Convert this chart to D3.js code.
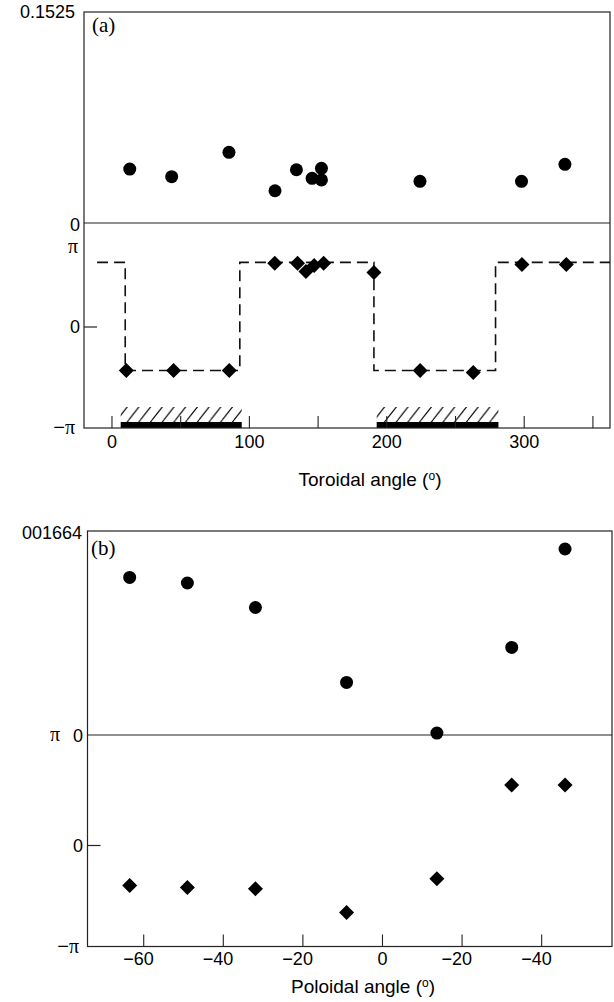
<!DOCTYPE html>
<html>
<head>
<meta charset="utf-8">
<script src="https://cdn.jsdelivr.net/npm/d3@7"></script>
<style>
  html, body { margin: 0; padding: 0; background: #fff; }
  svg { display: block; }
  text { font-family: "Liberation Sans", Arial, Helvetica, sans-serif; fill: #000; }
</style>
</head>
<body>
<svg id="chart" width="614" height="1002"></svg>
<script>
// ---------- Panel (a): toroidal scan ----------
const torTicks = [0, 50, 100, 150, 200, 250, 300, 350];
const torTickLabels = ["0", "", "100", "", "200", "", "300", ""];
const torCircleX = [13.3, 43.8, 85.5, 119, 134.6, 146, 152.8, 152.8, 224.5, 298.4, 330];
const torAmp = [0.0390, 0.0335, 0.0511, 0.0233, 0.0385, 0.0323, 0.0395, 0.0311, 0.0301, 0.0301, 0.0424];
const torDiamondX = [10.8, 45.2, 85.7, 118.8, 135.4, 141.5, 147.5, 154.4, 191, 224.6, 263.3, 298.7, 331];
const torPhase = [-0.43, -0.43, -0.43, 0.63, 0.63, 0.55, 0.61, 0.63, 0.54, -0.43, -0.45, 0.62, 0.62]; // units of π
const torStepX = [-10.5, 10, 93.4, 191, 279.5, 362.8];
const torStepPhase = [0.64, -0.43, 0.64, -0.43, 0.64, 0.64];
const torHatched = [[6.7, 94.8], [193, 281.6]];

// ---------- Panel (b): poloidal scan ----------
const polTicks = [-60, -40, -20, 0, 20, 40];
const polTickLabels = ["\u221260", "\u221240", "\u221220", "0", "\u221220", "\u221240"];
const polX = [-63.4, -48.9, -31.8, -8.9, 13.8, 32.6, 46.0];
const polAmp = [0.01285, 0.01240, 0.01040, 0.00429, 0.00016, 0.00714, 0.01517];
const polPhase = [-0.396, -0.416, -0.429, -0.663, -0.33, 0.598, 0.598]; // units of π

const svg = d3.select("#chart");
const defs = svg.append("defs");
const pat = defs.append("pattern")
  .attr("id", "hatch").attr("patternUnits", "userSpaceOnUse")
  .attr("width", 11.7).attr("height", 15);
pat.append("line").attr("x1", 0).attr("y1", 15).attr("x2", 11.7).attr("y2", 0)
  .attr("stroke", "#000").attr("stroke-width", 1.1);
pat.append("line").attr("x1", -11.7).attr("y1", 15).attr("x2", 0).attr("y2", 0)
  .attr("stroke", "#000").attr("stroke-width", 1.1);
pat.append("line").attr("x1", 11.7).attr("y1", 15).attr("x2", 23.4).attr("y2", 0)
  .attr("stroke", "#000").attr("stroke-width", 1.1);

const diamond = d3.symbol().type(d3.symbolDiamond2 || d3.symbolSquare2).size(115);
const diamondPath = "M0,-7.5L7.5,0L0,7.5L-7.5,0Z";

function fixMinus(axisG) {
  axisG.selectAll(".tick text").each(function () {
    const t = d3.select(this);
    const s = t.text();
    if (s.startsWith("\u2212")) {
      const full = this.getComputedTextLength();
      t.text(s.slice(1));
      const digits = this.getComputedTextLength();
      t.text(s);
      t.attr("dx", -(full - digits) / 2);
    }
  });
}

function drawTitle(x, y, label) {
  const t = svg.append("text").attr("x", x).attr("y", y)
    .attr("text-anchor", "middle").attr("font-size", 19);
  t.append("tspan").text(label + " (");
  t.append("tspan").attr("font-size", 12).attr("dy", -6).text("o");
  t.append("tspan").attr("dy", 6).text(")");
}

// ===== Panel (a) =====
{
  const L = 84, R = 610, T = 12, S = 223, B = 428;
  const x = d3.scaleLinear().domain([-20, 362.8]).range([L, R]);
  const yAmp = d3.scaleLinear().domain([0, 0.1525]).range([S, T]);
  const yPh = d3.scaleLinear().domain([-1, 1]).range([B, 226]);

  // hatched regions
  svg.selectAll(".hatchA").data(torHatched).join("rect")
    .attr("x", d => x(d[0])).attr("width", d => x(d[1]) - x(d[0]))
    .attr("y", B - 21).attr("height", 15)
    .attr("fill", "url(#hatch)");
  svg.selectAll(".barA").data(torHatched).join("rect")
    .attr("x", d => x(d[0])).attr("width", d => x(d[1]) - x(d[0]))
    .attr("y", B - 6).attr("height", 6).attr("fill", "#000");

  // axis
  const ax = svg.append("g").attr("transform", `translate(0,${B})`)
    .call(d3.axisBottom(x).tickValues(torTicks).tickSize(-12).tickPadding(7)
      .tickFormat((d, i) => torTickLabels[i]));
  ax.select(".domain").remove();
  ax.selectAll(".tick line").attr("stroke", "#222").attr("stroke-width", 1.1);
  ax.selectAll(".tick text").attr("font-size", 18).attr("font-family", "Liberation Sans, Arial, sans-serif");

  // frame and separator
  svg.append("rect").attr("x", L).attr("y", T).attr("width", R - L).attr("height", B - T)
    .attr("fill", "none").attr("stroke", "#222").attr("stroke-width", 1.2);
  svg.append("line").attr("x1", L).attr("x2", R).attr("y1", yAmp(0)).attr("y2", yAmp(0))
    .attr("stroke", "#222").attr("stroke-width", 1.2);
  // phase zero tick
  svg.append("line").attr("x1", L).attr("x2", L + 13).attr("y1", yPh(0)).attr("y2", yPh(0))
    .attr("stroke", "#222").attr("stroke-width", 1.2);

  // step (dashed) line
  const pts = torStepX.map((v, i) => [v, torStepPhase[i]]);
  svg.append("path").datum(pts)
    .attr("d", d3.line().x(d => x(d[0])).y(d => yPh(d[1])).curve(d3.curveStepAfter))
    .attr("fill", "none").attr("stroke", "#111").attr("stroke-width", 1.6)
    .attr("stroke-dasharray", "11,6");

  // circles (amplitude)
  svg.selectAll(".cA").data(torCircleX).join("circle")
    .attr("cx", d => x(d)).attr("cy", (d, i) => yAmp(torAmp[i])).attr("r", 6.5).attr("fill", "#000");
  // diamonds (phase)
  svg.selectAll(".dA").data(torDiamondX).join("path")
    .attr("d", diamondPath)
    .attr("transform", (d, i) => `translate(${x(d)},${yPh(torPhase[i])})`).attr("fill", "#000");

  // left labels
  const lab = (txt, xx, yy, ff) => svg.append("text").attr("x", xx).attr("y", yy)
    .attr("text-anchor", "end").attr("font-size", 18)
    .style("font-family", ff || "Liberation Sans, Arial, sans-serif").text(txt);
  lab("0.1525", 75, 18);
  lab("0", 80, 231);
  lab("\u03c0", 78, 253, "Liberation Serif, Times New Roman, serif").attr("font-size", 20);
  lab("0", 80, 333);
  svg.append("text").attr("x", 75).attr("y", 434).attr("text-anchor", "end").attr("font-size", 20)
    .call(t => { t.append("tspan").text("\u2212"); t.append("tspan").style("font-family", "Liberation Serif, serif").text("\u03c0"); });

  svg.append("text").attr("x", 92).attr("y", 32).attr("font-size", 21)
    .style("font-family", "Liberation Serif, Times New Roman, serif").text("(a)");

  drawTitle(370, 486, "Toroidal angle");
}

// ===== Panel (b) =====
{
  const L = 87.5, R = 612, T = 531, S = 735, B = 946.5;
  const x = d3.scaleLinear().domain([-74, 57.8]).range([L, R]);
  const yAmp = d3.scaleLinear().domain([0, 0.01664]).range([S, T]);
  const yPh = d3.scaleLinear().domain([-1, 1]).range([B, 744.5]);

  const ax = svg.append("g").attr("transform", `translate(0,${B})`)
    .call(d3.axisBottom(x).tickValues(polTicks).tickSize(-12).tickPadding(6)
      .tickFormat((d, i) => polTickLabels[i]));
  ax.select(".domain").remove();
  ax.selectAll(".tick line").attr("stroke", "#222").attr("stroke-width", 1.1);
  ax.selectAll(".tick text").attr("font-size", 18).attr("font-family", "Liberation Sans, Arial, sans-serif");
  fixMinus(ax);

  svg.append("rect").attr("x", L).attr("y", T).attr("width", R - L).attr("height", B - T)
    .attr("fill", "none").attr("stroke", "#222").attr("stroke-width", 1.2);
  svg.append("line").attr("x1", L).attr("x2", R).attr("y1", yAmp(0)).attr("y2", yAmp(0))
    .attr("stroke", "#222").attr("stroke-width", 1.2);
  svg.append("line").attr("x1", L).attr("x2", L + 13).attr("y1", yPh(0)).attr("y2", yPh(0))
    .attr("stroke", "#222").attr("stroke-width", 1.2);

  svg.selectAll(".cB").data(polX).join("circle")
    .attr("cx", d => x(d)).attr("cy", (d, i) => yAmp(polAmp[i])).attr("r", 6.5).attr("fill", "#000");
  svg.selectAll(".dB").data(polX).join("path")
    .attr("d", diamondPath)
    .attr("transform", (d, i) => `translate(${x(d)},${yPh(polPhase[i])})`).attr("fill", "#000");

  const lab = (txt, xx, yy, ff) => svg.append("text").attr("x", xx).attr("y", yy)
    .attr("text-anchor", "end").attr("font-size", 18)
    .style("font-family", ff || "Liberation Sans, Arial, sans-serif").text(txt);
  lab("001664", 82, 539);
  lab("\u03c0", 60, 741, "Liberation Serif, Times New Roman, serif").attr("font-size", 20);
  lab("0", 83, 742);
  lab("0", 83, 852);
  svg.append("text").attr("x", 79).attr("y", 953).attr("text-anchor", "end").attr("font-size", 20)
    .call(t => { t.append("tspan").text("\u2212"); t.append("tspan").style("font-family", "Liberation Serif, serif").text("\u03c0"); });

  svg.append("text").attr("x", 91).attr("y", 555).attr("font-size", 21)
    .style("font-family", "Liberation Serif, Times New Roman, serif").text("(b)");

  drawTitle(363, 993, "Poloidal angle");
}
</script>
</body>
</html>
